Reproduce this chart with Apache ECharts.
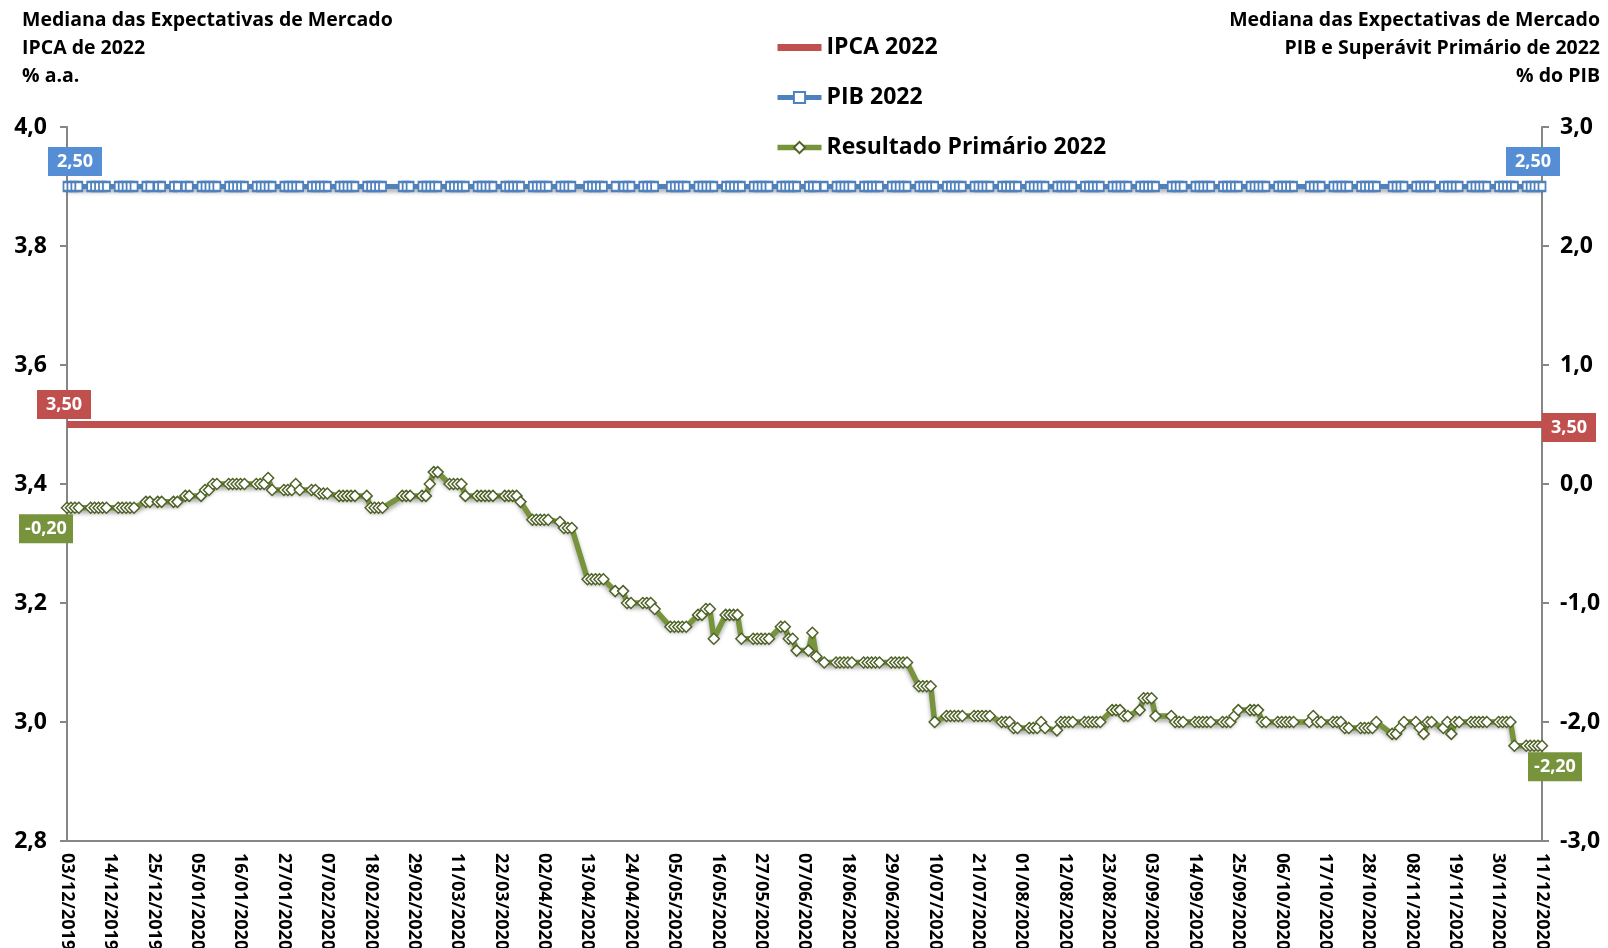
<!DOCTYPE html>
<html>
<head>
<meta charset="utf-8">
<script src="https://cdn.jsdelivr.net/npm/echarts@6/dist/echarts.min.js"></script>
<style>
html,body{margin:0;padding:0;background:#fff;}
#main{width:1608px;height:948px;}
</style>
</head>
<body>
<div id="main"></div>
<script>
// calendar of the x axis (every day), labels every 11 days
var firstDay = '2019-12-03';
var lastDay = '2020-12-11';
var firstMonday = '2019-12-02'; // each row below = Mon..Fri of one week, null = no survey

var primario2022 = [
    [null,-0.20,-0.20,-0.20,-0.20], [-0.20,-0.20,-0.20,-0.20,-0.20], [-0.20,-0.20,-0.20,-0.20,-0.20],
    [-0.15,-0.15,null,-0.15,-0.15], [-0.15,-0.15,null,-0.10,-0.10], [-0.10,-0.05,-0.05,0.00,0.00],
    [0.00,0.00,0.00,0.00,0.00], [0.00,0.00,0.00,0.05,-0.05], [-0.05,-0.05,-0.05,0.00,-0.05],
    [-0.05,-0.05,-0.08,-0.08,-0.08], [-0.10,-0.10,-0.10,-0.10,-0.10], [-0.10,-0.20,-0.20,-0.20,-0.20],
    [null,null,-0.10,-0.10,-0.10], [-0.10,-0.10,0.00,0.10,0.10], [0.00,0.00,0.00,0.00,-0.10],
    [-0.10,-0.10,-0.10,-0.10,-0.10], [-0.10,-0.10,-0.10,-0.10,-0.15], [-0.30,-0.30,-0.30,-0.30,-0.30],
    [-0.32,-0.37,-0.37,-0.37,null], [-0.80,-0.80,-0.80,-0.80,-0.80], [-0.90,null,-0.90,-1.00,-1.00],
    [-1.00,-1.00,-1.00,-1.05,null], [-1.20,-1.20,-1.20,-1.20,-1.20], [-1.10,-1.10,-1.05,-1.05,-1.30],
    [-1.10,-1.10,-1.10,-1.10,-1.30], [-1.30,-1.30,-1.30,-1.30,-1.30], [-1.20,-1.20,-1.30,-1.30,-1.40],
    [-1.40,-1.25,-1.45,null,-1.50], [-1.50,-1.50,-1.50,-1.50,-1.50], [-1.50,-1.50,-1.50,-1.50,-1.50],
    [-1.50,-1.50,-1.50,-1.50,-1.50], [-1.70,-1.70,-1.70,-1.70,-2.00], [-1.95,-1.95,-1.95,-1.95,-1.95],
    [-1.95,-1.95,-1.95,-1.95,-1.95], [-2.00,-2.00,-2.00,-2.05,-2.05], [-2.05,-2.05,-2.05,-2.00,-2.05],
    [-2.07,-2.00,-2.00,-2.00,-2.00], [-2.00,-2.00,-2.00,-2.00,-2.00], [-1.90,-1.90,-1.90,-1.95,-1.95],
    [-1.90,-1.80,-1.80,-1.80,-1.95], [null,-1.95,-2.00,-2.00,-2.00], [-2.00,-2.00,-2.00,-2.00,-2.00],
    [-2.00,-2.00,-2.00,-1.95,-1.90], [-1.90,-1.90,-1.90,-2.00,-2.00], [-2.00,-2.00,-2.00,-2.00,-2.00],
    [null,-2.00,-1.95,-2.00,-2.00], [-2.00,-2.00,-2.00,-2.05,-2.05], [-2.05,-2.05,-2.05,-2.05,-2.00],
    [null,-2.10,-2.10,-2.05,-2.00], [-2.00,-2.05,-2.10,-2.00,-2.00], [-2.05,-2.00,-2.10,-2.00,-2.00],
    [-2.00,-2.00,-2.00,-2.00,-2.00], [-2.00,-2.00,-2.00,-2.00,-2.20], [-2.20,-2.20,-2.20,-2.20,-2.20]
];

var pib2022 = [
    [null,2.5,2.5,2.5,2.5], [2.5,2.5,2.5,2.5,2.5], [2.5,2.5,2.5,2.5,2.5], [2.5,2.5,null,2.5,2.5], [2.5,2.5,null,2.5,2.5], [2.5,2.5,2.5,2.5,2.5],
    [2.5,2.5,2.5,2.5,2.5], [2.5,2.5,2.5,2.5,2.5], [2.5,2.5,2.5,2.5,2.5], [2.5,2.5,2.5,2.5,2.5], [2.5,2.5,2.5,2.5,2.5], [2.5,2.5,2.5,2.5,2.5],
    [null,null,2.5,2.5,2.5], [2.5,2.5,2.5,2.5,2.5], [2.5,2.5,2.5,2.5,2.5], [2.5,2.5,2.5,2.5,2.5], [2.5,2.5,2.5,2.5,2.5], [2.5,2.5,2.5,2.5,2.5],
    [2.5,2.5,2.5,2.5,null], [2.5,2.5,2.5,2.5,2.5], [2.5,null,2.5,2.5,2.5], [2.5,2.5,2.5,2.5,null], [2.5,2.5,2.5,2.5,2.5], [2.5,2.5,2.5,2.5,2.5],
    [2.5,2.5,2.5,2.5,2.5], [2.5,2.5,2.5,2.5,2.5], [2.5,2.5,2.5,2.5,2.5], [2.5,2.5,2.5,null,2.5], [2.5,2.5,2.5,2.5,2.5], [2.5,2.5,2.5,2.5,2.5],
    [2.5,2.5,2.5,2.5,2.5], [2.5,2.5,2.5,2.5,2.5], [2.5,2.5,2.5,2.5,2.5], [2.5,2.5,2.5,2.5,2.5], [2.5,2.5,2.5,2.5,2.5], [2.5,2.5,2.5,2.5,2.5],
    [2.5,2.5,2.5,2.5,2.5], [2.5,2.5,2.5,2.5,2.5], [2.5,2.5,2.5,2.5,2.5], [2.5,2.5,2.5,2.5,2.5], [null,2.5,2.5,2.5,2.5], [2.5,2.5,2.5,2.5,2.5],
    [2.5,2.5,2.5,2.5,2.5], [2.5,2.5,2.5,2.5,2.5], [2.5,2.5,2.5,2.5,2.5], [null,2.5,2.5,2.5,2.5], [2.5,2.5,2.5,2.5,2.5], [2.5,2.5,2.5,2.5,2.5],
    [null,2.5,2.5,2.5,2.5], [2.5,2.5,2.5,2.5,2.5], [2.5,2.5,2.5,2.5,2.5], [2.5,2.5,2.5,2.5,2.5], [2.5,2.5,2.5,2.5,2.5], [2.5,2.5,2.5,2.5,2.5]
];

var ipca2022 = [
    [null,3.5,3.5,3.5,3.5], [3.5,3.5,3.5,3.5,3.5], [3.5,3.5,3.5,3.5,3.5], [3.5,3.5,null,3.5,3.5], [3.5,3.5,null,3.5,3.5], [3.5,3.5,3.5,3.5,3.5],
    [3.5,3.5,3.5,3.5,3.5], [3.5,3.5,3.5,3.5,3.5], [3.5,3.5,3.5,3.5,3.5], [3.5,3.5,3.5,3.5,3.5], [3.5,3.5,3.5,3.5,3.5], [3.5,3.5,3.5,3.5,3.5],
    [null,null,3.5,3.5,3.5], [3.5,3.5,3.5,3.5,3.5], [3.5,3.5,3.5,3.5,3.5], [3.5,3.5,3.5,3.5,3.5], [3.5,3.5,3.5,3.5,3.5], [3.5,3.5,3.5,3.5,3.5],
    [3.5,3.5,3.5,3.5,null], [3.5,3.5,3.5,3.5,3.5], [3.5,null,3.5,3.5,3.5], [3.5,3.5,3.5,3.5,null], [3.5,3.5,3.5,3.5,3.5], [3.5,3.5,3.5,3.5,3.5],
    [3.5,3.5,3.5,3.5,3.5], [3.5,3.5,3.5,3.5,3.5], [3.5,3.5,3.5,3.5,3.5], [3.5,3.5,3.5,null,3.5], [3.5,3.5,3.5,3.5,3.5], [3.5,3.5,3.5,3.5,3.5],
    [3.5,3.5,3.5,3.5,3.5], [3.5,3.5,3.5,3.5,3.5], [3.5,3.5,3.5,3.5,3.5], [3.5,3.5,3.5,3.5,3.5], [3.5,3.5,3.5,3.5,3.5], [3.5,3.5,3.5,3.5,3.5],
    [3.5,3.5,3.5,3.5,3.5], [3.5,3.5,3.5,3.5,3.5], [3.5,3.5,3.5,3.5,3.5], [3.5,3.5,3.5,3.5,3.5], [null,3.5,3.5,3.5,3.5], [3.5,3.5,3.5,3.5,3.5],
    [3.5,3.5,3.5,3.5,3.5], [3.5,3.5,3.5,3.5,3.5], [3.5,3.5,3.5,3.5,3.5], [null,3.5,3.5,3.5,3.5], [3.5,3.5,3.5,3.5,3.5], [3.5,3.5,3.5,3.5,3.5],
    [null,3.5,3.5,3.5,3.5], [3.5,3.5,3.5,3.5,3.5], [3.5,3.5,3.5,3.5,3.5], [3.5,3.5,3.5,3.5,3.5], [3.5,3.5,3.5,3.5,3.5], [3.5,3.5,3.5,3.5,3.5]
];

var titleLeft = 'Mediana das Expectativas de Mercado\nIPCA de 2022\n% a.a.';
var titleRight = 'Mediana das Expectativas de Mercado\nPIB e Superávit Primário de 2022\n% do PIB';

var FONT = '"Open Sans", "Noto Sans", sans-serif';
var DAY = 24 * 3600 * 1000;

function pad(n){ return (n < 10 ? '0' : '') + n; }
function utc(s){ var p = s.split('-'); return Date.UTC(+p[0], +p[1] - 1, +p[2]); }

// every calendar day between first and last date
var t0 = utc(firstDay), t1 = utc(lastDay);
var days = [];
for (var t = t0; t <= t1; t += DAY) {
    var d = new Date(t);
    days.push(pad(d.getUTCDate()) + '/' + pad(d.getUTCMonth() + 1) + '/' + d.getUTCFullYear());
}

// weekly rows -> one slot per calendar day (null on days without survey)
function toDaily(rows){
    var out = days.map(function(){ return null; });
    var shift = Math.round((utc(firstMonday) - t0) / DAY);
    rows.forEach(function(row, w){
        row.forEach(function(v, i){
            var idx = shift + w * 7 + i;
            if (idx >= 0 && idx < out.length) out[idx] = v;
        });
    });
    return out;
}

var ipcaData = toDaily(ipca2022);
var pibData = toDaily(pib2022);
var primData = toDaily(primario2022);

function firstIdx(a){ for (var i = 0; i < a.length; i++) if (a[i] != null) return i; }
function lastIdx(a){ for (var i = a.length - 1; i >= 0; i--) if (a[i] != null) return i; }

function endBox(arr, color, offFirst, offLast){
    var i0 = firstIdx(arr), i1 = lastIdx(arr);
    var base = {
        symbol: 'rect',
        symbolSize: [54, 29],
        itemStyle: { color: color },
        label: {
            show: true, position: 'inside', color: '#fff',
            fontFamily: FONT, fontWeight: 'bold', fontSize: 18,
            formatter: function(p){ return p.value.toFixed(2).replace('.', ','); }
        }
    };
    return {
        animation: false,
        data: [
            Object.assign({ coord: [i0, arr[i0]], value: arr[i0], symbolOffset: offFirst }, base),
            Object.assign({ coord: [i1, arr[i1]], value: arr[i1], symbolOffset: offLast }, base)
        ]
    };
}

var dom = document.getElementById('main');
var myChart = echarts.init(dom);

var axisFmt = function(v){ return v.toFixed(1).replace('.', ','); };

var option = {
    animation: false,
    backgroundColor: '#fff',
    textStyle: { fontFamily: FONT },
    graphic: [
        { type: 'text', x: 22, y: 6,
          style: { text: titleLeft, fill: '#000', font: 'bold 19.5px "Open Sans"', lineHeight: 28,
                   align: 'left', verticalAlign: 'top' } },
        { type: 'text', x: 1600, y: 6,
          style: { text: titleRight, fill: '#000', font: 'bold 19.5px "Open Sans"', lineHeight: 28,
                   align: 'right', verticalAlign: 'top' } }
    ],
    legend: {
        orient: 'vertical',
        left: 769,
        top: 31,
        itemWidth: 44,
        itemHeight: 14,
        itemGap: 27,
        lineStyle: { width: 'inherit' },
        textStyle: { fontFamily: FONT, fontSize: 23, fontWeight: 'bold', color: '#000' },
        data: [
            { name: 'IPCA 2022', itemStyle: { opacity: 0 } },
            'PIB 2022',
            'Resultado Primário 2022'
        ]
    },
    grid: { left: 67, right: 66, top: 127, bottom: 107, outerBoundsMode: 'none', containLabel: false },
    xAxis: {
        type: 'category',
        data: days,
        boundaryGap: false,
        axisLine: { onZero: false, lineStyle: { color: '#868686', width: 2 } },
        axisTick: { show: false },
        axisLabel: {
            interval: 10, rotate: -90, margin: 12,
            fontFamily: FONT, fontSize: 18, fontWeight: 'bold', color: '#000'
        },
        splitLine: { show: false }
    },
    yAxis: [
        {
            type: 'value', min: 2.8, max: 4.0, interval: 0.2,
            axisLine: { show: true, lineStyle: { color: '#868686', width: 2 } },
            axisTick: { show: true, length: 7, lineStyle: { color: '#868686', width: 2 } },
            axisLabel: { margin: 20, fontFamily: FONT, fontSize: 23, fontWeight: 'bold', color: '#000', formatter: axisFmt },
            splitLine: { show: false }
        },
        {
            type: 'value', min: -3, max: 3, interval: 1,
            axisLine: { show: true, lineStyle: { color: '#868686', width: 2 } },
            axisTick: { show: true, length: 7, lineStyle: { color: '#868686', width: 2 } },
            axisLabel: { margin: 18, fontFamily: FONT, fontSize: 23, fontWeight: 'bold', color: '#000', formatter: axisFmt },
            splitLine: { show: false }
        }
    ],
    series: [
        {
            name: 'IPCA 2022',
            type: 'line',
            yAxisIndex: 0,
            data: ipcaData,
            connectNulls: true,
            symbol: 'none',
            itemStyle: { color: '#C0504D' },
            lineStyle: { color: '#C0504D', width: 7 },
            z: 2,
            markPoint: endBox(ipcaData, '#C0504D', [-3, -20], [27, 3])
        },
        {
            name: 'PIB 2022',
            type: 'line',
            yAxisIndex: 1,
            data: pibData,
            connectNulls: true,
            showAllSymbol: true,
            symbol: 'rect',
            symbolSize: [7, 9],
            itemStyle: { color: '#fff', borderColor: '#4F81BD', borderWidth: 2 },
            lineStyle: { color: '#4F81BD', width: 5, shadowColor: 'rgba(0,0,0,0.35)', shadowBlur: 4, shadowOffsetY: 3 },
            z: 3,
            markPoint: endBox(pibData, '#558ED5', [8, -25], [-9, -25])
        },
        {
            name: 'Resultado Primário 2022',
            type: 'line',
            yAxisIndex: 1,
            data: primData,
            connectNulls: true,
            showAllSymbol: true,
            symbol: 'diamond',
            symbolSize: 11,
            itemStyle: { color: '#fff', borderColor: '#4F6228', borderWidth: 1.5 },
            lineStyle: { color: '#77933C', width: 5.5, shadowColor: 'rgba(0,0,0,0.35)', shadowBlur: 4, shadowOffsetY: 3 },
            z: 4,
            markPoint: endBox(primData, '#77933C', [-21, 21], [13, 21])
        }
    ]
};

if (option && typeof option === "object") {
    myChart.setOption(option, true);
}
</script>
</body>
</html>
